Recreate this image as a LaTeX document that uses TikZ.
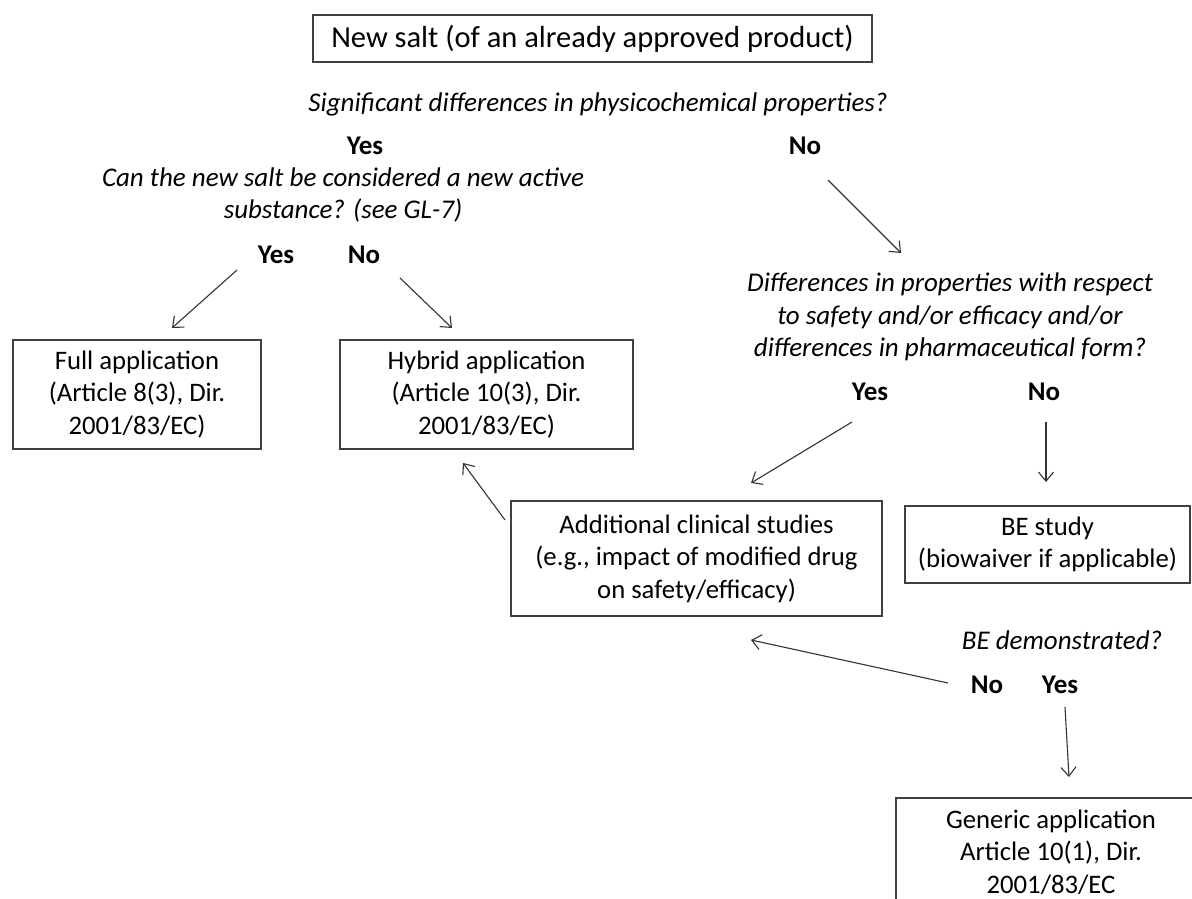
\documentclass[tikz,border=0pt]{standalone}
\usepackage{fontspec}
\setmainfont{Carlito}
\usetikzlibrary{arrows.meta}
\begin{document}
\begin{tikzpicture}[x=1pt,y=-1pt,
  box/.style={draw=black!75, line width=1.4pt, align=center, inner sep=0pt, font=\fontsize{26.7}{32.5}\selectfont},
  quest/.style={align=center, inner sep=0pt, font=\fontsize{27}{32.5}\selectfont\itshape},
  lbl/.style={inner sep=0pt, font=\fontsize{27}{32}\selectfont\bfseries},
  arr/.style={draw=black!80, line width=1.1pt, -{Straight Barb[length=9pt,width=15pt]}}]
\clip (0,0) rectangle (1192,899);
\path[use as bounding box] (0,0) rectangle (1192,899);
\fill[white] (0,0) rectangle (1192,899);

% boxes
\node[box, minimum width=559pt, minimum height=47pt, font=\fontsize{30.5}{36}\selectfont] (top) at (592.5,38.5) {New salt (of an already approved product)};
\node[box, minimum width=248pt, minimum height=109pt] (full) at (137,394.5) {Full application\\(Article 8(3), Dir.\\2001/83/EC)};
\node[box, minimum width=293pt, minimum height=109pt] (hybrid) at (486.5,394.5) {Hybrid application\\(Article 10(3), Dir.\\2001/83/EC)};
\node[box, minimum width=371pt, minimum height=115pt] (add) at (696.5,558.5) {Additional clinical studies\\(e.g., impact of modified drug\\on safety/efficacy)};
\node[box, minimum width=285pt, minimum height=77pt] (be) at (1047.5,544.5) {BE study\\(biowaiver if applicable)};
\node[box, minimum width=310pt, minimum height=108pt] (gen) at (1051,852) {Generic application\\Article 10(1), Dir.\\2001/83/EC};

% questions
\node[quest] (q1) at (598,104) {Significant differences in physicochemical properties?};
\node[quest] (q2) at (343,195) {Can the new salt be considered a new active\\substance? (see GL-7)};
\node[quest] (q3) at (950,317) {Differences in properties with respect\\to safety and/or efficacy and/or\\differences in pharmaceutical form?};
\node[quest] (q4) at (1062,640) {BE demonstrated?};

% labels
\node[lbl] (yes1) at (365,146) {Yes};
\node[lbl] (no1) at (805,146) {No};
\node[lbl] (yes2) at (276,255) {Yes};
\node[lbl] (no2) at (364,255) {No};
\node[lbl] (yes3) at (870,392) {Yes};
\node[lbl] (no3) at (1044,392) {No};
\node[lbl] (no4) at (987,685) {No};
\node[lbl] (yes4) at (1060,685) {Yes};

% arrow ends
\coordinate (a1s) at (828,180); \coordinate (a1e) at (901,253);
\coordinate (a2s) at (237,270); \coordinate (a2e) at (172,328);
\coordinate (a3s) at (400,278); \coordinate (a3e) at (452,328);
\coordinate (a4s) at (852,422); \coordinate (a4e) at (751,483);
\coordinate (a5s) at (1046,422); \coordinate (a5e) at (1046,482);
\coordinate (a6s) at (505,520); \coordinate (a6e) at (463,463);
\coordinate (a7s) at (948,683); \coordinate (a7e) at (751,640);
\coordinate (a8s) at (1065,707); \coordinate (a8e) at (1069,777);

\draw[arr] (a1s) -- (a1e);
\draw[arr] (a2s) -- (a2e);
\draw[arr] (a3s) -- (a3e);
\draw[arr] (a4s) -- (a4e);
\draw[arr] (a5s) -- (a5e);
\draw[arr] (a6s) -- (a6e);
\draw[arr] (a7s) -- (a7e);
\draw[arr] (a8s) -- (a8e);
\end{tikzpicture}
\end{document}
